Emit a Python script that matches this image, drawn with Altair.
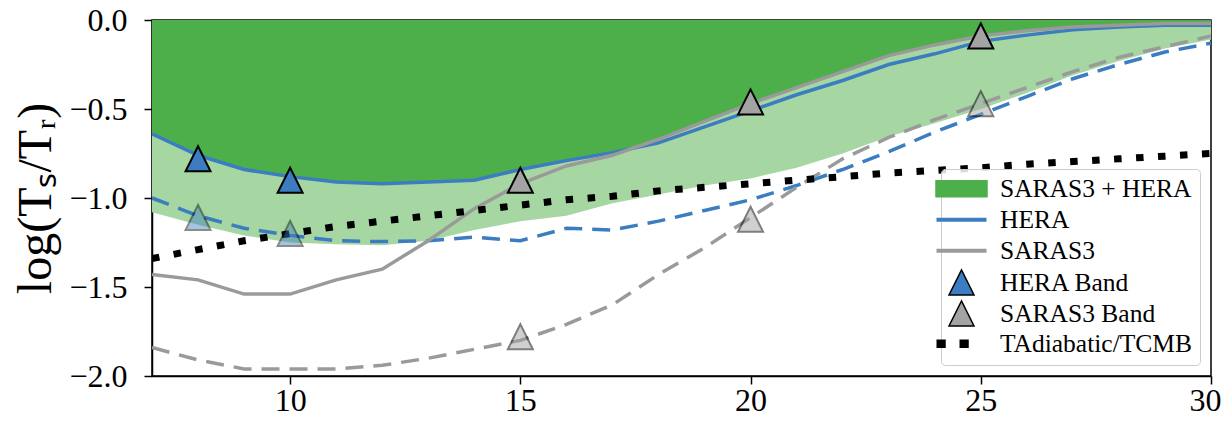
import altair as alt
import pandas as pd

# ---------------- data ----------------
z = list(range(7, 31))

hera = [-0.64, -0.76, -0.84, -0.88, -0.91, -0.92, -0.91, -0.90, -0.84, -0.79, -0.745, -0.69,
        -0.60, -0.51, -0.42, -0.34, -0.25, -0.19, -0.12, -0.085, -0.055, -0.04, -0.03, -0.03]
saras3 = [-1.43, -1.46, -1.54, -1.54, -1.46, -1.40, -1.24, -1.06, -0.92, -0.82, -0.76, -0.67,
          -0.57, -0.47, -0.38, -0.29, -0.20, -0.14, -0.09, -0.06, -0.04, -0.03, -0.02, -0.02]
hera_low = [-1.00, -1.10, -1.17, -1.21, -1.24, -1.245, -1.24, -1.22, -1.24, -1.17, -1.18, -1.13,
            -1.07, -1.01, -0.93, -0.84, -0.74, -0.63, -0.53, -0.43, -0.33, -0.25, -0.18, -0.13]
saras3_low = [-1.84, -1.91, -1.96, -1.96, -1.96, -1.94, -1.90, -1.85, -1.80, -1.71, -1.60, -1.43,
              -1.28, -1.11, -0.94, -0.78, -0.66, -0.56, -0.47, -0.38, -0.29, -0.21, -0.15, -0.09]
band_upper = [-0.64, -0.76, -0.84, -0.88, -0.91, -0.92, -0.91, -0.90, -0.84, -0.79, -0.745, -0.67,
              -0.57, -0.47, -0.38, -0.29, -0.20, -0.14, -0.09, -0.06, -0.04, -0.03, -0.02, -0.02]
band_lower = [-1.08, -1.15, -1.21, -1.25, -1.26, -1.265, -1.24, -1.18, -1.13, -1.10, -1.03, -0.98,
              -0.93, -0.89, -0.83, -0.75, -0.655, -0.58, -0.50, -0.41, -0.31, -0.23, -0.16, -0.11]
adiabatic = [-1.34, -1.29, -1.24, -1.20, -1.16, -1.13, -1.10, -1.07, -1.04, -1.01, -0.99, -0.96,
             -0.94, -0.92, -0.90, -0.88, -0.86, -0.845, -0.83, -0.81, -0.795, -0.78, -0.765, -0.75]

hera_band_z = [8, 10]
hera_band_hi = [-0.78, -0.90]
hera_band_lo = [-1.11, -1.20]
saras3_band_z = [15, 20, 25]
saras3_band_hi = [-0.90, -0.46, -0.09]
saras3_band_lo = [-1.78, -1.12, -0.47]

legend_labels = ["SARAS3 + HERA", "HERA", "SARAS3", "HERA Band", "SARAS3 Band", "TAdiabatic/TCMB"]

x_ticks = [10, 15, 20, 25, 30]
y_ticks = [-2.0, -1.5, -1.0, -0.5, 0.0]

# ---------------- styles ----------------
DARK_GREEN = "#4daf4a"
LIGHT_GREEN = "#a6d7a3"
BLUE = "#3b7dc0"
GRAY = "#9a9a9a"
TRI_GRAY = "#a3a3a3"
FONT = "Liberation Serif"
TRI = "M-1,1L1,1L0,-1Z"
# legend glyphs drawn as filled outlines (unit = half of sqrt(symbolSize))
RECT = "M-2.1,-0.7L2.1,-0.7L2.1,0.7L-2.1,0.7Z"
BAR = "M-2,-0.16L2,-0.16L2,0.16L-2,0.16Z"
DOTS = ("M-2,-0.34L-1.26,-0.34L-1.26,0.34L-2,0.34Z"
        "M-0.16,-0.34L0.58,-0.34L0.58,0.34L-0.16,0.34Z")

df = pd.DataFrame({
    "z": z, "hera": hera, "saras3": saras3, "hera_low": hera_low, "saras3_low": saras3_low,
    "band_upper": band_upper, "band_lower": band_lower, "adiabatic": adiabatic,
})
hb_hi = pd.DataFrame({"z": hera_band_z, "v": hera_band_hi})
hb_lo = pd.DataFrame({"z": hera_band_z, "v": hera_band_lo})
sb_hi = pd.DataFrame({"z": saras3_band_z, "v": saras3_band_hi})
sb_lo = pd.DataFrame({"z": saras3_band_z, "v": saras3_band_lo})
leg_df = pd.DataFrame({"label": legend_labels})

xscale = alt.Scale(domain=[7, 30], nice=False, zero=False)
yscale = alt.Scale(domain=[-2.0, 0.0], nice=False, zero=False)
xaxis = alt.Axis(values=x_ticks, title=None, grid=False, labelFlush=True, labelFlushOffset=10,
                 format="d")
yaxis = alt.Axis(values=y_ticks, format=".1f", grid=False, labelFlush=False,
                 title="log(Tₛ/Tᵣ)")


def X():
    return alt.X("z:Q", scale=xscale, axis=xaxis)


def Y(field):
    return alt.Y(f"{field}:Q", scale=yscale, axis=yaxis)


base = alt.Chart(df)

dark = base.mark_area(color=DARK_GREEN, opacity=1, clip=True).encode(
    x=X(), y=Y("band_upper"), y2=alt.datum(0))
light = base.mark_area(color=LIGHT_GREEN, opacity=1, clip=True).encode(
    x=X(), y=Y("band_upper"), y2="band_lower:Q")

hera_dash = base.mark_line(color=BLUE, strokeWidth=3.5, strokeDash=[18, 10], clip=True).encode(
    x=X(), y=Y("hera_low"))
saras_dash = base.mark_line(color=GRAY, strokeWidth=3.5, strokeDash=[18, 10], clip=True).encode(
    x=X(), y=Y("saras3_low"))
hera_line = base.mark_line(color=BLUE, strokeWidth=3.5, clip=True).encode(x=X(), y=Y("hera"))
saras_line = base.mark_line(color=GRAY, strokeWidth=3.5, clip=True).encode(x=X(), y=Y("saras3"))
adi_line = base.mark_line(color="black", strokeWidth=7, strokeDash=[7.5, 14.5], strokeCap="butt",
                          clip=True).encode(x=X(), y=Y("adiabatic"))


def tri(data, fill, op):
    return alt.Chart(data).mark_point(shape=TRI, size=625, filled=True, fill=fill, stroke="black",
                                      strokeWidth=2, opacity=op).encode(x=X(), y=Y("v"))


tri_layers = [tri(hb_lo, BLUE, 0.45), tri(sb_lo, TRI_GRAY, 0.5),
              tri(hb_hi, BLUE, 1.0), tri(sb_hi, TRI_GRAY, 1.0)]

leg = alt.Legend(title=None, orient="bottom-right", offset=11, padding=7,
                 fillColor="rgba(255,255,255,0.85)", strokeColor="#cccccc", cornerRadius=4,
                 labelFont=FONT, labelFontSize=25.5, labelColor="black", symbolSize=625,
                 symbolOpacity=1, symbolOffset=0, labelOffset=25, rowPadding=0,
                 gridAlign="all", labelLimit=500)

legend_layer = alt.Chart(leg_df).mark_point(opacity=0).encode(
    shape=alt.Shape("label:N", legend=leg,
                    scale=alt.Scale(domain=legend_labels, range=[RECT, BAR, BAR, TRI, TRI, DOTS])),
    fill=alt.Fill("label:N", legend=leg,
                  scale=alt.Scale(domain=legend_labels,
                                  range=[DARK_GREEN, BLUE, GRAY, BLUE, TRI_GRAY, "black"])),
    stroke=alt.Stroke("label:N", legend=leg,
                      scale=alt.Scale(domain=legend_labels,
                                      range=["transparent", "transparent", "transparent", "black",
                                             "black", "transparent"])),
    strokeWidth=alt.StrokeWidth("label:N", legend=leg,
                                scale=alt.Scale(type="ordinal", domain=legend_labels,
                                                range=[0, 0, 0, 1.5, 1.5, 0])),
)

chart = alt.layer(
    dark, light, hera_dash, saras_dash, hera_line, saras_line, adi_line, *tri_layers, legend_layer
).properties(
    width=1059, height=356,
    autosize=alt.AutoSizeParams(type="none"),
    padding={"left": 144, "top": 12, "right": 11, "bottom": 42},
).configure_view(
    stroke="black", strokeWidth=1.5
).configure_axis(
    domainColor="black", domainWidth=1.5, tickColor="black", tickWidth=1.5, tickSize=8,
    labelFont=FONT, labelFontSize=32, labelColor="black",
    titleFont=FONT, titleFontSize=48, titleFontWeight="normal", titleColor="black",
).configure_axisX(
    labelPadding=1.5
).configure_axisY(
    labelPadding=17, titlePadding=8
)

chart.save("out.html", embed_options={"renderer": "svg", "actions": False})
